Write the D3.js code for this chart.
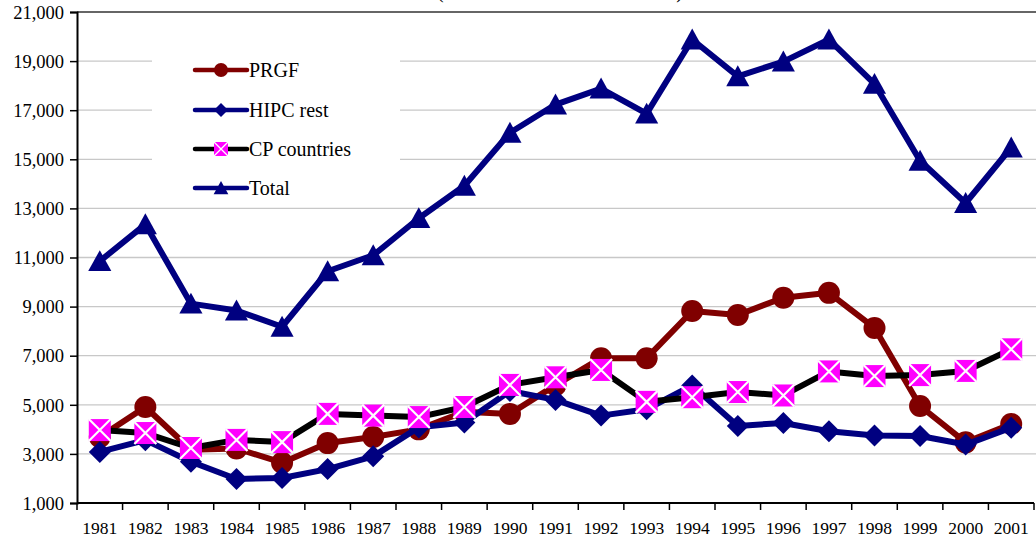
<!DOCTYPE html>
<html lang="en">
<head>
    <meta charset="utf-8">
    <title>Flows by country group</title>
    <script src="https://cdn.jsdelivr.net/npm/d3@7"></script>
    <style>
        body { margin: 0; background: #fff; }
        svg text { font-family: "Liberation Serif", Tinos, "Times New Roman", Times, "DejaVu Serif", serif; fill: #000; }
    </style>
</head>
<body>
<div id="chart"></div>
<script>
    // data
    const years = ["1981","1982","1983","1984","1985","1986","1987","1988","1989","1990","1991",
                   "1992","1993","1994","1995","1996","1997","1998","1999","2000","2001"];
    const prgf = [3690, 4910, 3170, 3220, 2640, 3440, 3690, 4000, 4720, 4630, 5800,
                  6900, 6900, 8820, 8660, 9360, 9560, 8130, 4950, 3470, 4220];
    const hipcRest = [3080, 3560, 2680, 1980, 2020, 2380, 2900, 4080, 4280, 5560, 5200,
                      4560, 4820, 5790, 4140, 4260, 3920, 3750, 3730, 3380, 4070];
    const cpCountries = [3970, 3850, 3240, 3570, 3480, 4630, 4560, 4500, 4910, 5810, 6120,
                         6420, 5120, 5310, 5520, 5380, 6360, 6170, 6210, 6380, 7260];
    const total = [10850, 12350, 9120, 8840, 8180, 10440, 11090, 12600, 13920, 16080, 17230,
                   17880, 16860, 19880, 18380, 18980, 19880, 18070, 14940, 13220, 15480];
    const yTicks = d3.range(1000, 21001, 2000);

    const series = [
        {name: "PRGF", values: prgf, color: "#800000", marker: "circle"},
        {name: "HIPC rest", values: hipcRest, color: "#000080", marker: "diamond"},
        {name: "CP countries", values: cpCountries, color: "#000000", marker: "square"},
        {name: "Total", values: total, color: "#000080", marker: "triangle"}
    ];

    const W = 1036, H = 544;
    const plotLeft = 77, plotRight = 1034, plotTop = 12, plotBottom = 503;

    const svg = d3.select("#chart").append("svg")
        .attr("width", W).attr("height", H);

    const x = d3.scaleBand().domain(years).range([plotLeft, plotRight]);
    const y = d3.scaleLinear().domain([1000, 21000]).range([plotBottom, plotTop]);
    const cx = d => x(d) + x.bandwidth() / 2;

    // title line, cut off at the top edge as in the reference
    svg.append("text")
        .attr("x", 437).attr("y", -2)
        .attr("textLength", 246).attr("lengthAdjust", "spacing")
        .style("font-size", "20px")
        .text("(millions of 2001 US dollars)");

    // gridlines
    svg.append("g").selectAll("line")
        .data(yTicks.filter(t => t > 1000 && t < 21000))
        .enter().append("line")
            .attr("x1", plotLeft).attr("x2", plotRight + 2)
            .attr("y1", d => y(d)).attr("y2", d => y(d))
            .attr("stroke", "#c8c8c8").attr("stroke-width", 1.3);

    // top border
    svg.append("line")
        .attr("x1", plotLeft).attr("x2", W)
        .attr("y1", y(21000)).attr("y2", y(21000))
        .attr("stroke", "#666").attr("stroke-width", 2);

    // legend background hides the gridlines
    svg.append("rect")
        .attr("x", 152).attr("y", 30).attr("width", 248).attr("height", 168)
        .attr("fill", "#fff");

    // y axis
    const yAxis = svg.append("g")
        .attr("transform", "translate(" + plotLeft + ",0)")
        .call(d3.axisLeft(y).tickValues(yTicks).tickFormat(d3.format(",")).tickSize(7).tickPadding(6));
    yAxis.attr("font-family", null);
    yAxis.select(".domain").attr("stroke", "#000").attr("stroke-width", 2);
    yAxis.selectAll(".tick line").attr("stroke", "#000").attr("stroke-width", 1.5);
    yAxis.selectAll("text").style("font-size", "18.5px").attr("dy", "0.34em");

    // x axis: ticks between categories
    svg.append("line")
        .attr("x1", plotLeft).attr("x2", plotRight)
        .attr("y1", plotBottom).attr("y2", plotBottom)
        .attr("stroke", "#000").attr("stroke-width", 2);
    svg.append("g").selectAll("line")
        .data(years.concat(["end"]))
        .enter().append("line")
            .attr("x1", (d, i) => plotLeft + i * x.bandwidth())
            .attr("x2", (d, i) => plotLeft + i * x.bandwidth())
            .attr("y1", plotBottom).attr("y2", plotBottom + 7)
            .attr("stroke", "#000").attr("stroke-width", 1.5);
    svg.append("g").selectAll("text")
        .data(years)
        .enter().append("text")
            .attr("x", d => cx(d))
            .attr("y", 534)
            .attr("text-anchor", "middle")
            .style("font-size", "17.5px")
            .text(d => d);

    // marker drawing
    function drawMarker(g, type, color, s) {
        if (type === "circle") {
            g.append("circle").attr("r", s / 2).attr("fill", color);
        } else if (type === "diamond") {
            const h = s / 2;
            g.append("path").attr("d", `M0,${-h}L${h},0L0,${h}L${-h},0Z`).attr("fill", color);
        } else if (type === "square") {
            const h = s / 2;
            g.append("rect").attr("x", -h).attr("y", -h).attr("width", s).attr("height", s)
                .attr("fill", "#ff00ff");
            g.append("path").attr("d", `M${-h},${-h}L${h},${h}M${h},${-h}L${-h},${h}`)
                .attr("stroke", "#fff").attr("stroke-width", s / 10);
        } else if (type === "triangle") {
            const h = s / 2;
            g.append("path").attr("d", `M0,${-h}L${h * 1.05},${h * 0.9}L${-h * 1.05},${h * 0.9}Z`)
                .attr("fill", color);
        }
    }

    const line = d3.line().x(d => cx(d.year)).y(d => y(d.value));

    series.forEach(sr => {
        const pts = years.map((yr, i) => ({year: yr, value: sr.values[i]}));
        const g = svg.append("g");
        g.append("path")
            .datum(pts)
            .attr("d", line)
            .attr("fill", "none")
            .attr("stroke", sr.color)
            .attr("stroke-width", 6)
            .attr("stroke-linejoin", "round");
        pts.forEach(p => {
            const m = g.append("g").attr("transform", "translate(" + cx(p.year) + "," + y(p.value) + ")");
            drawMarker(m, sr.marker, sr.color, 22);
        });
    });

    // legend
    const legend = svg.append("g");
    const legendRows = [70, 110, 149, 188];
    series.forEach((sr, i) => {
        const row = legend.append("g").attr("transform", "translate(0," + legendRows[i] + ")");
        row.append("line")
            .attr("x1", 195).attr("x2", 247)
            .attr("stroke", sr.color).attr("stroke-width", 4.5)
            .attr("stroke-linecap", "round");
        const m = row.append("g").attr("transform", "translate(221,0)");
        drawMarker(m, sr.marker, sr.color, 14);
        row.append("text")
            .attr("x", 249).attr("y", 7)
            .style("font-size", "20px")
            .text(sr.name);
    });
</script>
</body>
</html>
